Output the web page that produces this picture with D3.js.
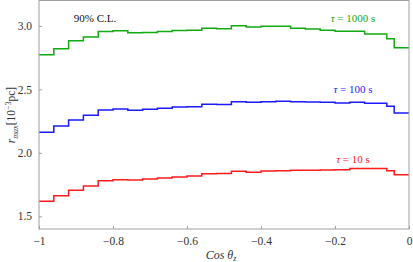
<!DOCTYPE html>
<html><head><meta charset="utf-8">
<script src="https://cdn.jsdelivr.net/npm/d3@7"></script>
<style>
html,body{margin:0;padding:0;background:#fff;}
svg{display:block;}
text{font-family:"Liberation Serif","Times New Roman",serif;}
</style></head>
<body>
<svg id="c" width="413" height="262"></svg>
<script>
// bin edges in cos(theta_z)
const binEdges = [-1, -0.96, -0.92, -0.88, -0.84, -0.80, -0.76, -0.72, -0.68, -0.64, -0.60, -0.56, -0.52,
  -0.48, -0.44, -0.40, -0.36, -0.32, -0.28, -0.24, -0.20, -0.16, -0.12, -0.06, -0.04, 0];
const tau1000 = [2.772, 2.819, 2.882, 2.912, 2.955, 2.961, 2.945, 2.947, 2.955, 2.963, 2.965, 2.981, 2.978,
  3.002, 2.992, 2.997, 2.997, 2.981, 2.976, 2.966, 2.958, 2.958, 2.937, 2.898, 2.827];
const tau100 = [2.162, 2.212, 2.259, 2.296, 2.337, 2.345, 2.335, 2.343, 2.351, 2.361, 2.364, 2.382, 2.381,
  2.403, 2.398, 2.403, 2.406, 2.403, 2.400, 2.398, 2.392, 2.398, 2.390, 2.367, 2.314];
const tau10 = [1.618, 1.662, 1.705, 1.739, 1.780, 1.788, 1.786, 1.793, 1.801, 1.809, 1.817, 1.835, 1.838,
  1.854, 1.848, 1.856, 1.859, 1.862, 1.862, 1.864, 1.867, 1.877, 1.877, 1.859, 1.827];
const seriesNames = ["τ = 1000 s", "τ = 100 s", "τ = 10 s"];
const seriesColors = ["#11aa11", "#1a1aff", "#ff1a1a"];
const xTicks = [-1, -0.8, -0.6, -0.4, -0.2, 0];
const xTickLabels = ["−1", "−0.8", "−0.6", "−0.4", "−0.2", "0"];
const yTicks = [1.5, 2.0, 2.5, 3.0];
const yTickLabels = ["1.5", "2.0", "2.5", "3.0"];

const svg = d3.select("#c");
const L = 39, R = 409, T = 0.5, B = 229;
const x = d3.scaleLinear().domain([-1, 0]).range([L, R]);
const y = d3.scaleLinear().domain([1.4, 3.2]).range([B, T]);

const frameColor = "#a0a0a0";
const textColor = "#333";

// lines
const line = d3.line().x(d => x(d[0])).y(d => y(d[1])).curve(d3.curveStepAfter);
[tau1000, tau100, tau10].forEach((vals, i) => {
  const pts = vals.map((v, k) => [binEdges[k], v]);
  pts.push([binEdges[binEdges.length - 1], vals[vals.length - 1]]);
  svg.append("path").datum(pts).attr("d", line)
    .attr("fill", "none").attr("stroke", seriesColors[i]).attr("stroke-width", 1.5);
});

// frame
svg.append("rect").attr("x", L).attr("y", T).attr("width", R - L).attr("height", B - T)
  .attr("fill", "none").attr("stroke", frameColor).attr("stroke-width", 1);

// bottom axis
const xAxis = d3.axisBottom(x).tickValues(xTicks).tickFormat((d, i) => xTickLabels[i]).tickSizeInner(-3).tickSizeOuter(0).tickPadding(8);
const gx = svg.append("g").attr("transform", `translate(0,${B})`).call(xAxis);
gx.select(".domain").remove();
gx.selectAll("line").attr("stroke", frameColor);
gx.selectAll("text").attr("fill", textColor).attr("font-size", 11.5)
  .attr("font-family", '"Liberation Serif","Times New Roman",serif');

// left axis
const yAxis = d3.axisLeft(y).tickValues(yTicks).tickFormat((d, i) => yTickLabels[i]).tickSizeInner(-3).tickSizeOuter(0).tickPadding(7);
const gy = svg.append("g").attr("transform", `translate(${L},0)`).call(yAxis);
gy.select(".domain").remove();
gy.selectAll("line").attr("stroke", frameColor);
gy.selectAll("text").attr("fill", textColor).attr("font-size", 11.5)
  .attr("font-family", '"Liberation Serif","Times New Roman",serif');

// x label
const xl = svg.append("text").attr("x", 221).attr("y", 258.5).attr("text-anchor", "middle")
  .attr("font-size", 12).attr("font-style", "italic").attr("fill", textColor);
xl.append("tspan").text("Cos θ");
xl.append("tspan").attr("font-size", 8).attr("dy", 2.5).text("z");

// y label
const yl = svg.append("text").attr("transform", "translate(15,115) rotate(-90)").attr("text-anchor", "middle")
  .attr("font-size", 11.5).attr("fill", textColor);
yl.append("tspan").attr("font-style", "italic").text("r");
yl.append("tspan").attr("font-style", "italic").attr("font-size", 8).attr("dy", 2.5).text("max");
yl.append("tspan").attr("dy", -2.5).text("[10");
yl.append("tspan").attr("font-size", 8).attr("dy", -4).text("−3");
yl.append("tspan").attr("dy", 4).text("pc]");

// annotations
svg.append("text").attr("x", 95).attr("y", 22).attr("text-anchor", "middle")
  .attr("font-size", 11).attr("fill", "#111").text("90% C.L.");
const labelY = [3.1, 2.45, 1.865];
const labelYpx = [22, 93, 163];
seriesNames.forEach((nm, i) => {
  const t = svg.append("text").attr("x", 353).attr("y", labelYpx[i]).attr("text-anchor", "middle")
    .attr("font-size", 11).attr("fill", seriesColors[i]);
  t.append("tspan").attr("font-style", "italic").text("τ");
  t.append("tspan").text(nm.slice(1));
});
</script>
</body></html>
